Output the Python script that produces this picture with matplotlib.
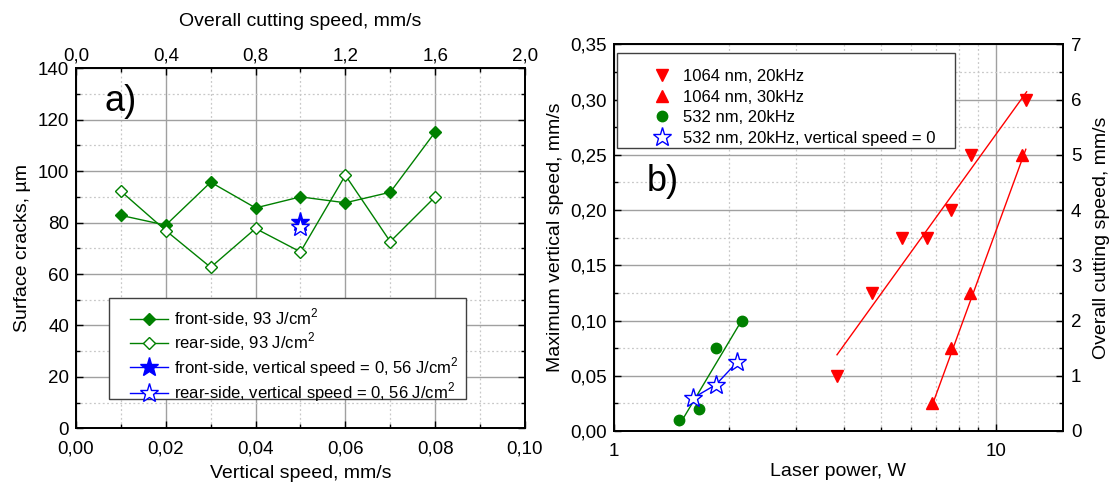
"""Surface cracks vs vertical speed (a) and max vertical speed vs laser power (b)."""

import matplotlib
matplotlib.use("Agg")
import matplotlib.pyplot as plt
from matplotlib.patches import Rectangle
from matplotlib.ticker import MultipleLocator, FuncFormatter, FixedLocator, NullFormatter


plt.rcParams["font.family"] = ["Liberation Sans", "DejaVu Sans"]
plt.rcParams["mathtext.fontset"] = "custom"
plt.rcParams["mathtext.rm"] = "Liberation Sans"
plt.rcParams["font.size"] = 13.5

GREEN = "#008000"
RED = "#ff0000"
BLUE = "#0000ff"
LABEL_FS = 14
TICK_FS = 13.5

# ---- panel a) ----
vert_speed = [0.01, 0.02, 0.03, 0.04, 0.05, 0.06, 0.07, 0.08]
front_cracks = [82.8, 79.0, 95.7, 85.7, 90.0, 87.7, 91.8, 115.2]
rear_cracks = [92.2, 76.9, 62.6, 77.7, 68.6, 98.4, 72.6, 90.0]
zero_speed_x = [0.05]
front_zero = [80.1]
rear_zero = [78.4]

# ---- panel b) ----
p_1064_20 = [3.83, 4.75, 5.69, 6.63, 7.64, 8.60, 12.0]
v_1064_20 = [0.05, 0.125, 0.175, 0.175, 0.20, 0.25, 0.30]
fit_1064_20_x = [3.84, 12.06]
fit_1064_20_y = [0.069, 0.307]

p_1064_30 = [6.80, 7.64, 8.56, 11.7]
v_1064_30 = [0.025, 0.075, 0.125, 0.25]
fit_1064_30_x = [6.9, 12.0]
fit_1064_30_y = [0.028, 0.255]

p_532 = [1.477, 1.673, 1.847, 2.164]
v_532 = [0.01, 0.02, 0.075, 0.10]
fit_532_x = [1.48, 2.16]
fit_532_y = [0.005, 0.10]

p_532_zero = [1.613, 1.850, 2.104]
v_532_zero = [0.03, 0.042, 0.0625]


def comma(fmt):
    return FuncFormatter(lambda v, pos: fmt.format(v).replace(".", ","))


def style_grid(ax):
    ax.grid(which="major", color="#a0a0a0", linewidth=1.0, linestyle="-")
    ax.grid(which="minor", color="#c8c8c8", linewidth=0.9, linestyle=(0, (1.5, 2)))
    ax.set_axisbelow(True)


def style_ticks(ax):
    ax.tick_params(which="both", direction="in", width=1.0, labelsize=TICK_FS)
    ax.tick_params(which="major", length=5)
    ax.tick_params(which="minor", length=3)
    for sp in ax.spines.values():
        sp.set_linewidth(1.3)


def legend_box(ax, x0, y0, x1, y1):
    # plain square frame drawn behind the legend entries
    ax.add_patch(Rectangle((x0, y0), x1 - x0, y1 - y0, transform=ax.transAxes,
                           facecolor="white", edgecolor="#404040", lw=1.0,
                           zorder=4))


fig = plt.figure(figsize=(11.11, 4.87), dpi=100)

# panel a)
ax1 = fig.add_axes([0.0684, 0.1205, 0.4041, 0.7393])
ax1.plot(vert_speed, front_cracks, color=GREEN, lw=1, marker="D", ms=6.5,
         mfc=GREEN, mec=GREEN, label="front-side, 93 J/cm$^2$")
ax1.plot(vert_speed, rear_cracks, color=GREEN, lw=1, marker="D", ms=6.5,
         mfc="white", mec=GREEN, label="rear-side, 93 J/cm$^2$")
ax1.plot(zero_speed_x, front_zero, color=BLUE, lw=1, marker="*", ms=14,
         mfc=BLUE, mec=BLUE, label="front-side, vertical speed = 0, 56 J/cm$^2$")
ax1.plot(zero_speed_x, rear_zero, color=BLUE, lw=1, marker="*", ms=14,
         mfc="white", mec=BLUE, mew=1, label="rear-side, vertical speed = 0, 56 J/cm$^2$")

ax1.set_xlim(0, 0.10)
ax1.set_ylim(0, 140)
ax1.xaxis.set_major_locator(MultipleLocator(0.02))
ax1.xaxis.set_minor_locator(MultipleLocator(0.01))
ax1.yaxis.set_major_locator(MultipleLocator(20))
ax1.yaxis.set_minor_locator(MultipleLocator(10))
ax1.xaxis.set_major_formatter(comma("{:.2f}"))
ax1.tick_params(right=True, which="both")
style_grid(ax1)
style_ticks(ax1)
ax1.tick_params(axis="x", pad=9)
ax1.tick_params(axis="y", pad=5)
ax1.set_xlabel("Vertical speed, mm/s", fontsize=LABEL_FS, labelpad=5)
ax1.set_ylabel("Surface cracks, µm", fontsize=LABEL_FS, labelpad=5)
ax1.text(0.064, 0.908, "a)", transform=ax1.transAxes, fontsize=26,
         ha="left", va="center")

legend_box(ax1, 0.0735, 0.0814, 0.8686, 0.362)
leg1 = ax1.legend(loc="upper left", bbox_to_anchor=(0.12, 0.338),
                  frameon=False, handlelength=2.3, labelspacing=0.1,
                  borderpad=0, handletextpad=0.35, borderaxespad=0,
                  fontsize=12)
leg1.set_zorder(5)

ax1t = ax1.twiny()
ax1t.set_xlim(0, 2.0)
ax1t.xaxis.set_major_locator(MultipleLocator(0.4))
ax1t.xaxis.set_minor_locator(MultipleLocator(0.2))
ax1t.xaxis.set_major_formatter(comma("{:.1f}"))
style_ticks(ax1t)
ax1t.tick_params(axis="x", pad=3)
ax1t.set_xlabel("Overall cutting speed, mm/s", fontsize=LABEL_FS, labelpad=15)

# panel b)
ax2 = fig.add_axes([0.5527, 0.115, 0.4039, 0.794])
ax2.set_xscale("log")
ax2.plot(p_1064_20, v_1064_20, linestyle="none", marker="v", ms=8.5,
         color=RED, label="1064 nm, 20kHz")
ax2.plot(fit_1064_20_x, fit_1064_20_y, color=RED, lw=1)
ax2.plot(p_1064_30, v_1064_30, linestyle="none", marker="^", ms=8.5,
         color=RED, label="1064 nm, 30kHz")
ax2.plot(fit_1064_30_x, fit_1064_30_y, color=RED, lw=1)
ax2.plot(p_532, v_532, linestyle="none", marker="o", ms=7.5,
         color=GREEN, label="532 nm, 20kHz")
ax2.plot(fit_532_x, fit_532_y, color=GREEN, lw=1)
ax2.plot(p_532_zero, v_532_zero, color=BLUE, lw=1)
ax2.plot(p_532_zero, v_532_zero, linestyle="none", marker="*", ms=14,
         mfc="white", mec=BLUE, mew=1, label="532 nm, 20kHz, vertical speed = 0")

ax2.set_xlim(1, 15)
ax2.set_ylim(0, 0.35)
ax2.xaxis.set_major_locator(FixedLocator([1, 10]))
ax2.xaxis.set_minor_locator(FixedLocator([2, 3, 4, 5, 6, 7, 8, 9]))
ax2.xaxis.set_major_formatter(FuncFormatter(lambda v, pos: f"{v:g}"))
ax2.xaxis.set_minor_formatter(NullFormatter())
ax2.yaxis.set_major_locator(MultipleLocator(0.05))
ax2.yaxis.set_minor_locator(MultipleLocator(0.025))
ax2.yaxis.set_major_formatter(comma("{:.2f}"))
style_grid(ax2)
style_ticks(ax2)
ax2.tick_params(axis="x", pad=9)
ax2.tick_params(axis="y", pad=5)
ax2.set_xlabel("Laser power, W", fontsize=LABEL_FS, labelpad=2)
ax2.set_ylabel("Maximum vertical speed, mm/s", fontsize=LABEL_FS, labelpad=5)
ax2.text(0.0735, 0.645, "b)", transform=ax2.transAxes, fontsize=26,
         ha="left", va="center")

legend_box(ax2, 0.0067, 0.732, 0.760, 0.978)
leg2 = ax2.legend(loc="upper left", bbox_to_anchor=(0.0245, 0.936),
                  frameon=False, handlelength=4.4, labelspacing=0.33,
                  borderpad=0, handletextpad=-0.95, borderaxespad=0,
                  fontsize=12, numpoints=1)
leg2.set_zorder(5)

ax2r = ax2.twinx()
ax2r.set_ylim(0, 7)
ax2r.yaxis.set_major_locator(MultipleLocator(1))
ax2r.yaxis.set_minor_locator(MultipleLocator(0.5))
style_ticks(ax2r)
ax2r.tick_params(axis="y", pad=6)
ax2r.set_ylabel("Overall cutting speed, mm/s", fontsize=LABEL_FS, labelpad=8)

fig.savefig("out.png", dpi=100)
